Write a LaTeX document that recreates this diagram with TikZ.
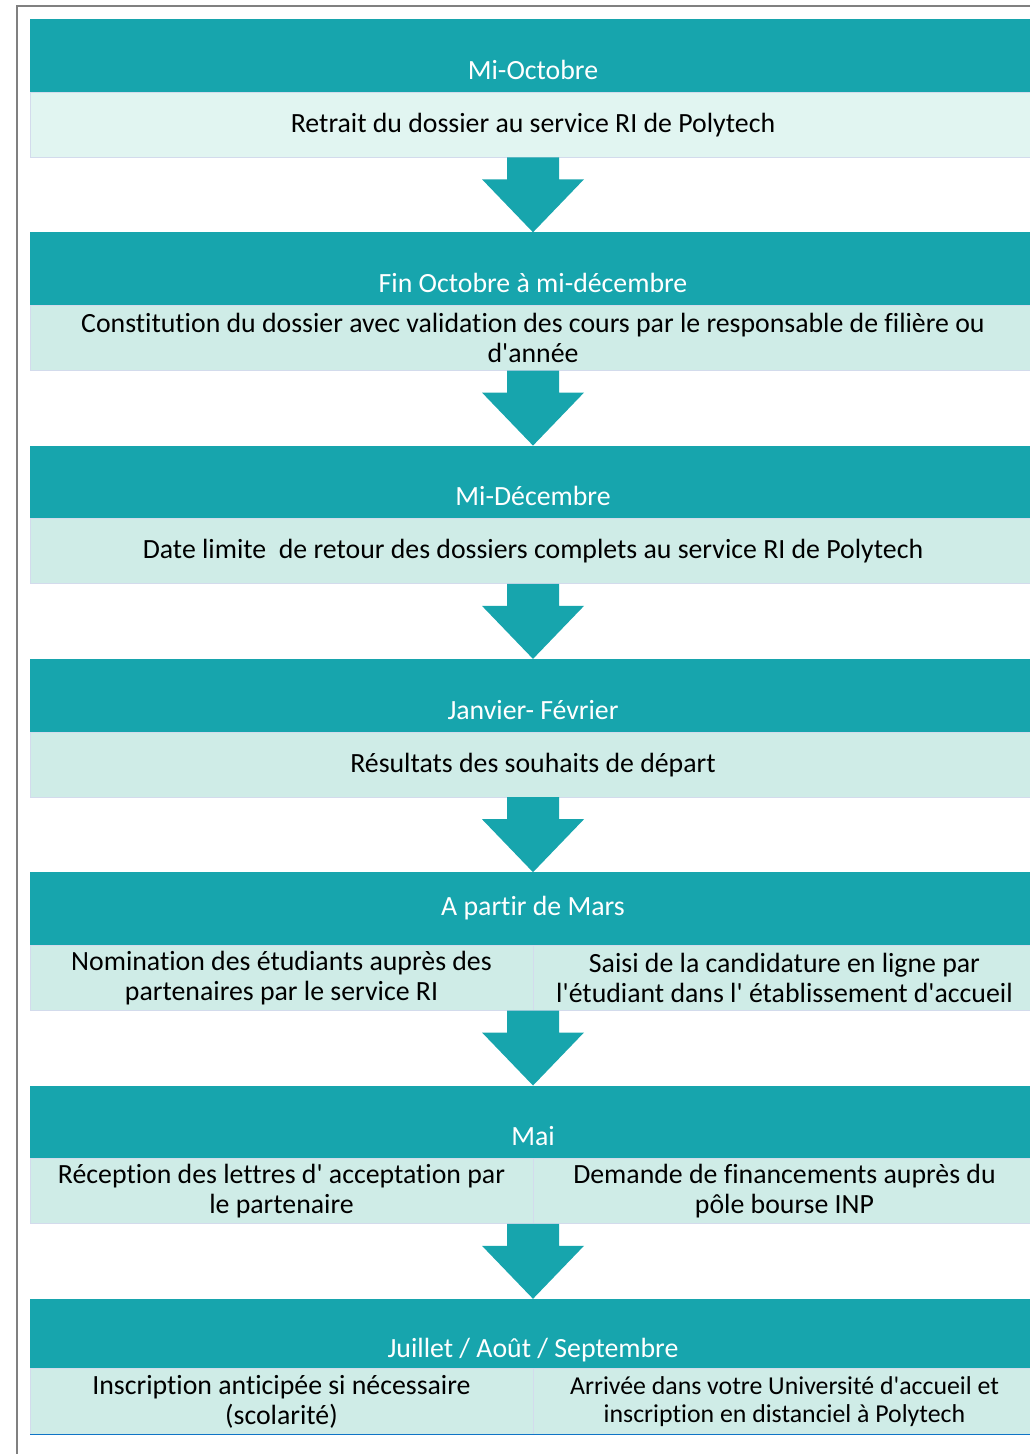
\documentclass[tikz,border=0pt]{standalone}
\usepackage{fontspec}
\setmainfont{Carlito}[Ligatures={TeXOff,NoCommon}]
\usetikzlibrary{positioning,calc}

\definecolor{headteal}{RGB}{23,165,173}
\definecolor{firstfill}{RGB}{225,245,241}
\definecolor{taskfill}{RGB}{207,236,231}
\definecolor{taskline}{RGB}{211,219,236}
\definecolor{framegray}{RGB}{128,128,128}

\begin{document}
\begin{tikzpicture}[x=1pt,y=-1pt,
  font=\fontsize{27.8}{29.5}\selectfont,
  phase/.style={fill=headteal, text=white, minimum width=1006pt, minimum height=73.3pt,
    inner sep=0pt, outer sep=0pt, text height=53pt, text depth=6pt},
  task/.style={fill=taskfill, draw=taskline, line width=1pt, minimum width=1006pt,
    minimum height=65pt, inner sep=0pt, outer sep=0pt, align=center},
  half/.style={task, minimum width=503pt},
  flow/.style={fill=headteal}]
  \useasboundingbox (0,0) rectangle (1029,1454);

  % frame
  \draw[framegray, line width=2.5pt] (17,1460) -- (17,6) -- (1035,6);

  \node[phase] (h1) at (533,55.65) {Mi-Octobre};
  \node[task, fill=firstfill, below=0pt of h1] (t1) {Retrait du dossier au service RI de Polytech};

  \node[phase, below=75pt of t1] (h2) {Fin Octobre à mi-décembre};
  \node[task, below=0pt of h2] (t2) {Constitution du dossier avec validation des cours par le responsable de filière ou\\d'année};

  \node[phase, below=75pt of t2] (h3) {Mi-Décembre};
  \node[task, below=0pt of h3] (t3) {Date limite \ de retour des dossiers complets au service RI de Polytech};

  \node[phase, below=75pt of t3] (h4) {Janvier- Février};
  \node[task, below=0pt of h4] (t4) {Résultats des souhaits de départ};

  \node[phase, text height=19pt, below=75pt of t4] (h5) {A partir de Mars};
  \node[half, below right=0pt of h5.south west] (t5a) {Nomination des étudiants auprès des\\partenaires par le service RI};
  \node[half, below left=0pt of h5.south east] (t5b) {Saisi de la candidature en ligne par\\l'étudiant dans l' établissement d'accueil};

  \node[phase, below=75pt of t5a.south east, anchor=north] (h6) {Mai};
  \node[half, below right=0pt of h6.south west] (t6a) {Réception des lettres d' acceptation par\\le partenaire};
  \node[half, below left=0pt of h6.south east] (t6b) {Demande de financements auprès du\\pôle bourse INP};

  \node[phase, minimum height=70pt, below=75pt of t6a.south east, anchor=north] (h7) {Juillet / Août / Septembre};
  \node[half, minimum height=66pt, below right=0pt of h7.south west] (t7a) {Inscription anticipée si nécessaire\\(scolarité)};
  \node[half, minimum height=66pt, font=\fontsize{25.8}{28}\selectfont, below left=0pt of h7.south east] (t7b) {Arrivée dans votre Université d'accueil et\\inscription en distanciel à Polytech};
  \draw[headteal!70!blue, line width=1pt] (t7a.south west) -- (t7b.south east);

  % arrows between steps
  \fill[flow] ($(t1.south)+(-26,0)$) -- ++(0,22) -- ++(-25,0) -- (h2.north) -- ++(51,-53) -- ++(-25,0) -- ++(0,-22) -- cycle;
  \fill[flow] ($(t2.south)+(-26,0)$) -- ++(0,22) -- ++(-25,0) -- (h3.north) -- ++(51,-53) -- ++(-25,0) -- ++(0,-22) -- cycle;
  \fill[flow] ($(t3.south)+(-26,0)$) -- ++(0,22) -- ++(-25,0) -- (h4.north) -- ++(51,-53) -- ++(-25,0) -- ++(0,-22) -- cycle;
  \fill[flow] ($(t4.south)+(-26,0)$) -- ++(0,22) -- ++(-25,0) -- (h5.north) -- ++(51,-53) -- ++(-25,0) -- ++(0,-22) -- cycle;
  \fill[flow] ($(t5a.south east)+(-26,0)$) -- ++(0,22) -- ++(-25,0) -- (h6.north) -- ++(51,-53) -- ++(-25,0) -- ++(0,-22) -- cycle;
  \fill[flow] ($(t6a.south east)+(-26,0)$) -- ++(0,22) -- ++(-25,0) -- (h7.north) -- ++(51,-53) -- ++(-25,0) -- ++(0,-22) -- cycle;
\end{tikzpicture}
\end{document}
